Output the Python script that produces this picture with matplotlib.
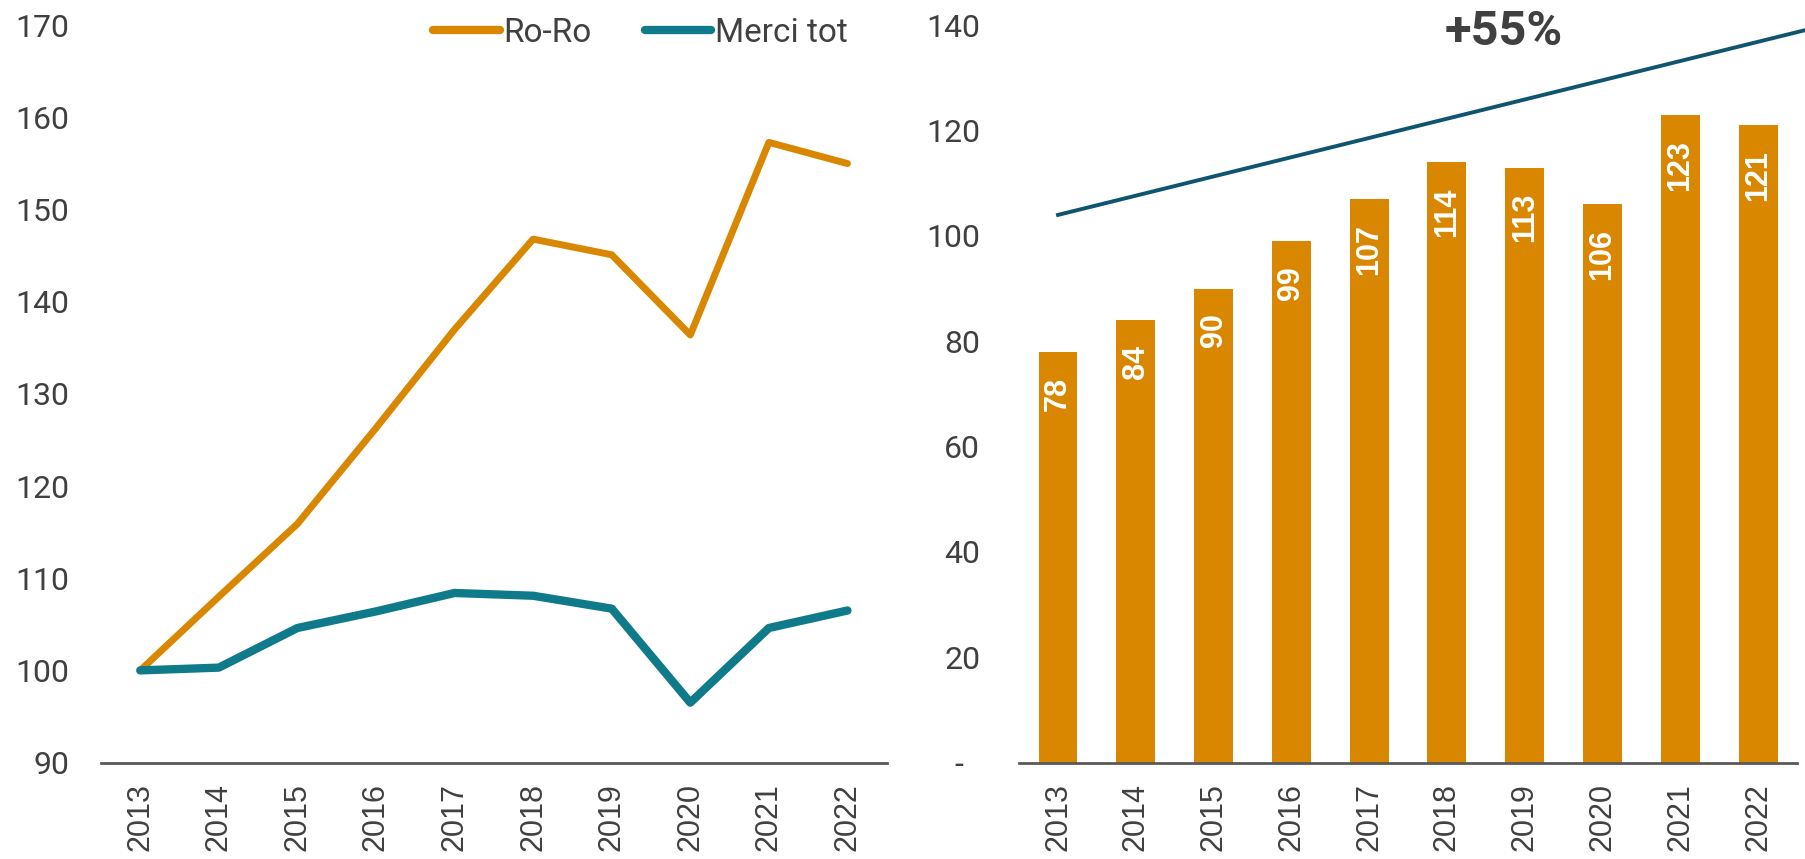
"""
Ro-Ro vs total cargo index (left) and Ro-Ro volumes with trend (right).
"""

import matplotlib
matplotlib.use("Agg")
import matplotlib.pyplot as plt

YEARS = ["2013", "2014", "2015", "2016", "2017",
         "2018", "2019", "2020", "2021", "2022"]

# Left panel: index 2013 = 100
RORO_INDEX = [100, 108, 115.9, 126.3, 137.0, 146.8, 145.1, 136.4, 157.3, 155.0]
MERCI_INDEX = [100, 100.3, 104.6, 106.4, 108.4, 108.1, 106.7, 96.5, 104.6, 106.5]

# Right panel: Ro-Ro volumes and trend line
RORO_VALUES = [78, 84, 90, 99, 107, 114, 113, 106, 123, 121]
TREND_X = [0, 9.8]
TREND_Y = [104, 139.8]
TREND_LABEL = "+55%"

LEFT_YTICKS = [90, 100, 110, 120, 130, 140, 150, 160, 170]
RIGHT_YTICKS = [0, 20, 40, 60, 80, 100, 120, 140]
RIGHT_YTICKLABELS = ["-  ", "20", "40", "60", "80", "100", "120", "140"]

ORANGE = "#d98700"
TEAL = "#0e7a8a"
DARK_TEAL = "#0f5570"
INK = "#404040"
AXIS = "#595959"

NUM_FONT = "Roboto"
CAT_FONT = "Liberation Sans"

fig = plt.figure(figsize=(18.06, 8.59), dpi=100)
bottom, top = 0.1123, 0.9705
ax1 = fig.add_axes([0.0559, bottom, 0.491 - 0.0559, top - bottom])
ax2 = fig.add_axes([0.5643, bottom, 0.995 - 0.5643, top - bottom])

x = list(range(len(YEARS)))


def style_axes(ax):
    for name, sp in ax.spines.items():
        sp.set_visible(name == "bottom")
    ax.spines["bottom"].set_color(AXIS)
    ax.spines["bottom"].set_linewidth(2)
    ax.tick_params(axis="both", length=0)
    ax.set_xticks(x)
    ax.set_xticklabels(YEARS, rotation=90, fontsize=22, color=INK,
                       family=CAT_FONT)
    ax.tick_params(axis="x", pad=15)
    ax.set_xlim(-0.5, 9.5)


# ---- left: indices
ax1.plot(x, RORO_INDEX, color=ORANGE, lw=5, solid_capstyle="round",
         solid_joinstyle="round", label="Ro-Ro")
ax1.plot(x, MERCI_INDEX, color=TEAL, lw=6, solid_capstyle="round",
         solid_joinstyle="round", label="Merci tot")
ax1.set_ylim(90, 170)
ax1.set_yticks(LEFT_YTICKS)
ax1.set_yticklabels([str(t) for t in LEFT_YTICKS], fontsize=23, color=INK,
                    family=NUM_FONT)
ax1.tick_params(axis="y", pad=23)
style_axes(ax1)

leg = ax1.legend(loc="center right", bbox_to_anchor=(0.95, 0.99),
                 ncol=2, frameon=False, borderaxespad=0, borderpad=0,
                 handlelength=2.0, handletextpad=0.1, columnspacing=1.6,
                 prop={"family": NUM_FONT, "size": 24})
for t in leg.get_texts():
    t.set_color(INK)
for h in leg.get_lines():
    h.set_linewidth(6)
    h.set_solid_capstyle("round")

# ---- right: volumes
ax2.bar(x, RORO_VALUES, width=0.5, color=ORANGE, zorder=2)
for xi, v in zip(x, RORO_VALUES):
    ax2.annotate(str(v), (xi, v), xytext=(0, -18), textcoords="offset points",
                 rotation=90, ha="center", va="top", fontsize=22,
                 fontweight="bold", color="white", family=CAT_FONT, zorder=3)
ax2.plot(TREND_X, TREND_Y, color=DARK_TEAL, lw=2.8, clip_on=False, zorder=3)
ax2.text(5.73, 138.8, TREND_LABEL, ha="center", va="center", fontsize=35,
         fontweight="bold", color=INK, family=NUM_FONT)
ax2.set_ylim(0, 140)
ax2.set_yticks(RIGHT_YTICKS)
ax2.set_yticklabels(RIGHT_YTICKLABELS, fontsize=23, color=INK,
                    family=NUM_FONT)
ax2.tick_params(axis="y", pad=28)
style_axes(ax2)

fig.savefig("out.png", dpi=100, facecolor="white")
